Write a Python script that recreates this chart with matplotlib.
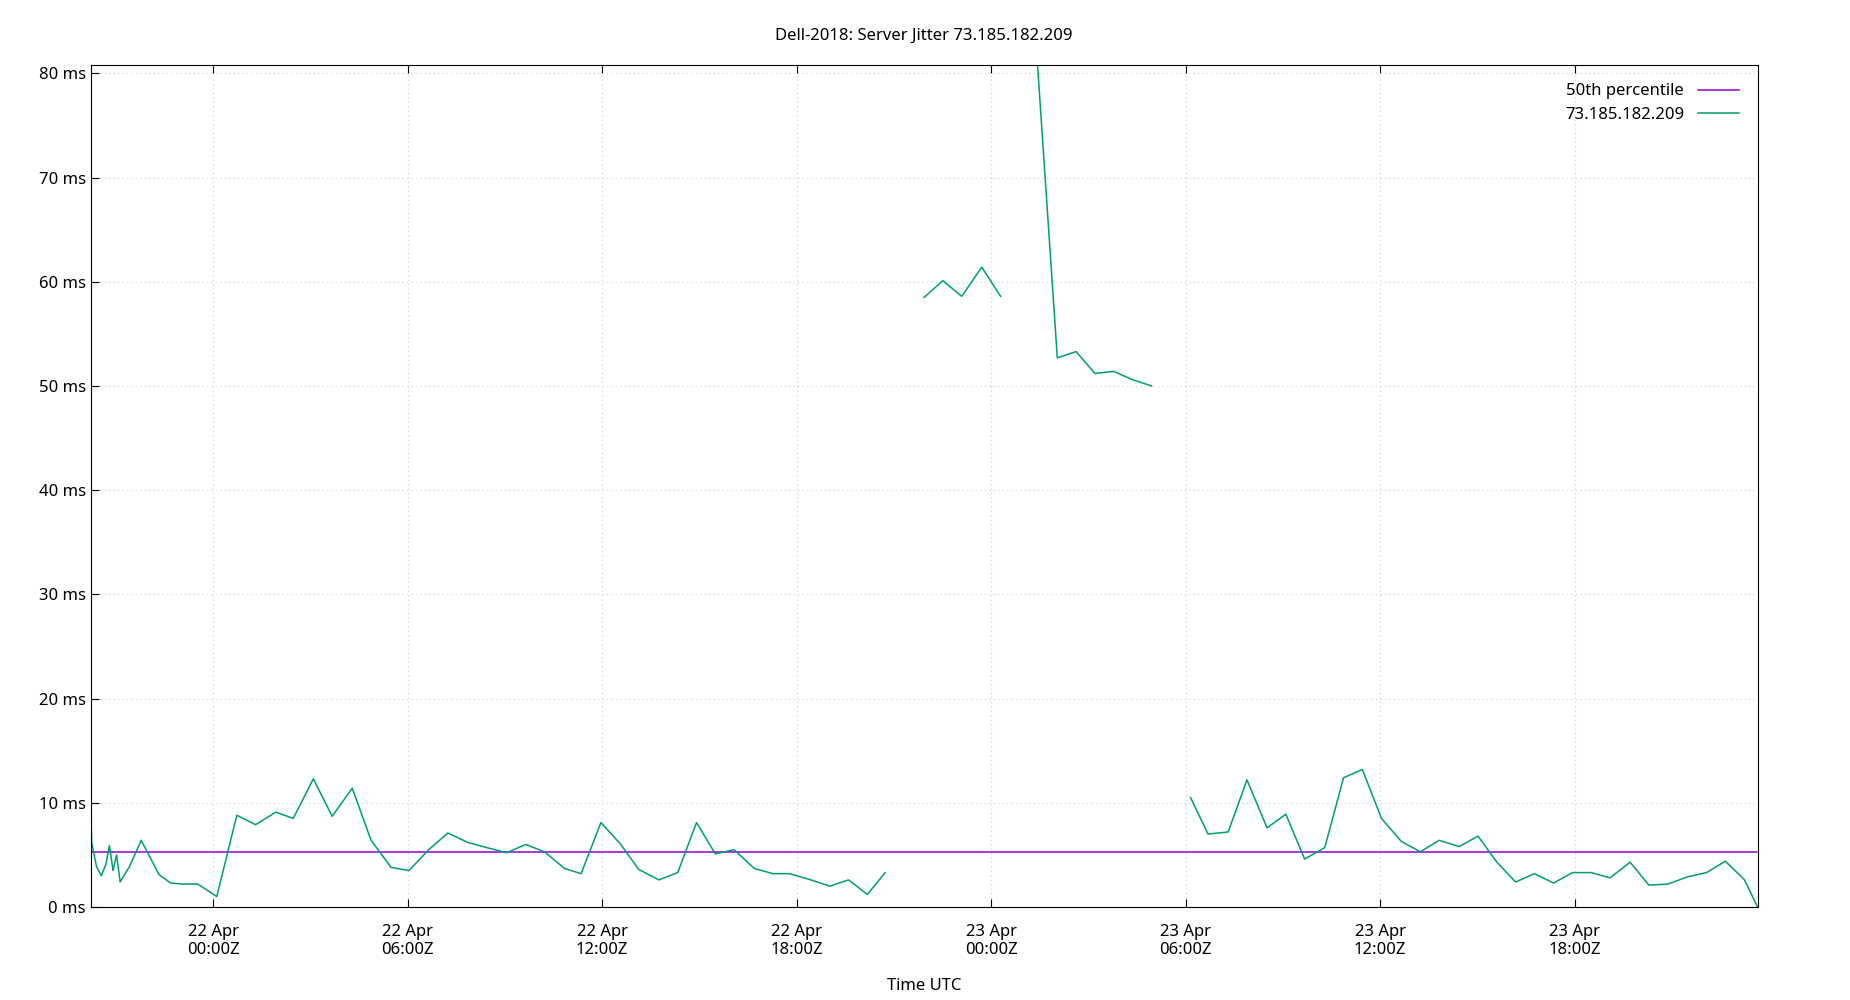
import matplotlib
matplotlib.use("Agg")
import matplotlib.pyplot as plt
import matplotlib.dates as mdates
import numpy as np
import pandas as pd

plt.rcParams["font.family"] = ["Noto Sans", "DejaVu Sans"]

# hours relative to 22 Apr 00:00Z, jitter in ms; segments separated by gaps
seg_hours = [
    [-3.78, -3.75, -3.6, -3.45, -3.31, -3.2, -3.09, -2.98, -2.87, -2.58, -2.22, -1.67, -1.31,
     -0.95, -0.47, 0.11, 0.73, 1.31, 1.93, 2.47, 3.09, 3.67, 4.29, 4.87, 5.49, 6.04, 6.65,
     7.24, 7.85, 8.44, 9.05, 9.64, 10.22, 10.84, 11.35, 11.96, 12.55, 13.13, 13.75, 14.33,
     14.91, 15.49, 16.07, 16.69, 17.27, 17.78, 18.44, 19.02, 19.6, 20.18, 20.73],
    [21.93, 22.51, 23.09, 23.71, 24.29],
    [24.84, 26.04, 26.62, 27.2, 27.78, 28.36, 28.95],
    [30.15, 30.69, 31.31, 31.89, 32.51, 33.09, 33.67, 34.29, 34.87, 35.45, 36.04, 36.65,
     37.24, 37.82, 38.44, 39.02, 39.6, 40.18, 40.76, 41.35, 41.93, 42.51, 43.09, 43.71,
     44.29, 44.87, 45.49, 46.07, 46.65, 47.24, 47.64],
]
seg_ms = [
    [11.2, 6.2, 3.9, 3.0, 4.1, 5.9, 3.5, 5.0, 2.4, 3.9, 6.4, 3.1, 2.3, 2.2, 2.2, 1.0, 8.8,
     7.9, 9.1, 8.5, 12.3, 8.7, 11.4, 6.4, 3.8, 3.5, 5.5, 7.1, 6.2, 5.7, 5.2, 6.0, 5.3, 3.7,
     3.2, 8.1, 6.1, 3.6, 2.6, 3.3, 8.1, 5.1, 5.5, 3.7, 3.2, 3.2, 2.6, 2.0, 2.6, 1.2, 3.3],
    [58.5, 60.1, 58.6, 61.4, 58.6],
    [108.0, 52.7, 53.3, 51.2, 51.4, 50.6, 50.0],
    [10.5, 7.0, 7.2, 12.2, 7.6, 8.9, 4.6, 5.7, 12.4, 13.2, 8.5, 6.3, 5.3, 6.4, 5.8, 6.8,
     4.3, 2.4, 3.2, 2.3, 3.3, 3.3, 2.8, 4.3, 2.1, 2.2, 2.9, 3.3, 4.4, 2.6, 0.0],
]
p50 = 5.3
x_range = [-3.78, 47.64]

base = pd.Timestamp("2018-04-22 00:00")
hours, ms = [], []
for h, v in zip(seg_hours, seg_ms):
    hours += h + [h[-1] + 0.01]
    ms += v + [np.nan]
times = [base + pd.Timedelta(hours=x) for x in hours]
xlim = [base + pd.Timedelta(hours=x) for x in x_range]

fig = plt.figure(figsize=(18.5, 10), dpi=100)
ax = fig.add_axes([0.049, 0.093, 0.901, 0.842])

ax.plot(xlim, [p50, p50], color="#9400d3", lw=1.1, label="50th percentile")
ax.plot(times, ms, color="#009e73", lw=1.1, label="73.185.182.209")

ax.set_xlim(xlim)
ax.set_ylim(0, 80.8)
ax.set_yticks(range(0, 81, 10))
ax.set_yticklabels([f"{v} ms" for v in range(0, 81, 10)])
ax.xaxis.set_major_locator(mdates.HourLocator(byhour=[0, 6, 12, 18]))
ax.xaxis.set_major_formatter(mdates.DateFormatter("%d %b\n%H:%MZ"))
ax.tick_params(direction="in", top=True, right=False, labelsize=12, length=6)
ax.tick_params(axis="x", pad=12)
ax.grid(True, color="#cccccc", linestyle=(0, (1, 3)), lw=0.8)
ax.set_xlabel("Time UTC", fontsize=12, labelpad=14)
ax.set_title("Dell-2018: Server Jitter 73.185.182.209", fontsize=12, pad=18)

ax.legend(loc="upper right", frameon=False, markerfirst=False, fontsize=12,
          handlelength=2.5, borderaxespad=0.7, labelspacing=0.45)

fig.savefig("out.png")
